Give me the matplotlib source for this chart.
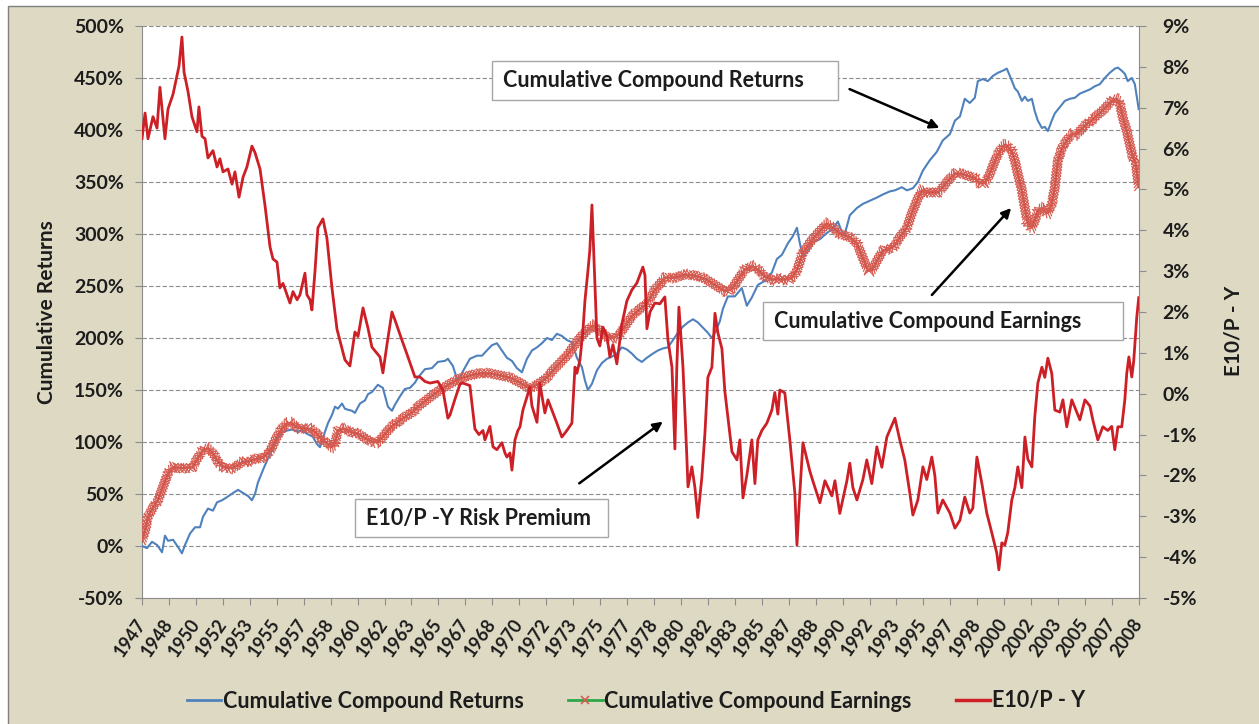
import matplotlib
matplotlib.use('Agg')
import matplotlib.pyplot as plt
import matplotlib.patheffects as pe
from matplotlib.patches import Rectangle, FancyArrowPatch
from matplotlib.lines import Line2D
from matplotlib.ticker import FuncFormatter

plt.rcParams['font.family'] = ['Lato', 'DejaVu Sans']
plt.rcParams['font.weight'] = 'bold'

W, H = 1259, 724

# --- data (decimal years) ---
returns_yr = [1947.00, 1947.31, 1947.62, 1947.93, 1948.24, 1948.42, 1948.61, 1948.92, 1949.23, 1949.47,
              1949.66, 1949.97, 1950.28, 1950.59, 1950.77, 1951.08, 1951.39, 1951.64, 1951.95, 1952.26,
              1952.63, 1952.94, 1953.25, 1953.56, 1953.80, 1953.99, 1954.17, 1954.48, 1954.73, 1955.04,
              1955.35, 1955.66, 1955.97, 1956.28, 1956.59, 1956.89, 1957.20, 1957.57, 1957.82, 1958.01,
              1958.32, 1958.50, 1958.75, 1958.94, 1959.12, 1959.37, 1959.55, 1959.74, 1959.99, 1960.17,
              1960.48, 1960.79, 1960.98, 1961.22, 1961.59, 1961.90, 1962.21, 1962.46, 1962.65, 1962.96,
              1963.26, 1963.57, 1963.88, 1964.07, 1964.50, 1964.93, 1965.30, 1965.74, 1965.92, 1966.23,
              1966.54, 1966.85, 1967.28, 1967.72, 1968.03, 1968.33, 1968.64, 1968.95, 1969.26, 1969.57,
              1969.88, 1970.19, 1970.50, 1970.81, 1971.12, 1971.43, 1971.74, 1972.05, 1972.35, 1972.66,
              1972.97, 1973.28, 1973.59, 1973.90, 1974.21, 1974.40, 1974.58, 1974.83, 1975.14, 1975.45,
              1975.76, 1976.06, 1976.37, 1976.68, 1976.99, 1977.30, 1977.61, 1977.92, 1978.23, 1978.60,
              1978.91, 1979.22, 1979.53, 1979.84, 1980.15, 1980.46, 1980.77, 1981.08, 1981.38, 1981.69,
              1982.00, 1982.25, 1982.44, 1982.74, 1982.93, 1983.24, 1983.67, 1984.10, 1984.41, 1984.72,
              1985.09, 1985.53, 1985.96, 1986.27, 1986.58, 1986.95, 1987.26, 1987.51, 1987.69, 1987.88,
              1988.12, 1988.49, 1988.93, 1989.36, 1989.73, 1990.04, 1990.29, 1990.47, 1990.78, 1991.22,
              1991.59, 1992.02, 1992.45, 1992.82, 1993.26, 1993.57, 1994.00, 1994.31, 1994.68, 1994.99,
              1995.30, 1995.73, 1996.16, 1996.53, 1996.97, 1997.28, 1997.59, 1997.89, 1998.20, 1998.51,
              1998.70, 1999.01, 1999.32, 1999.63, 1999.94, 2000.24, 2000.49, 2000.68, 2000.99, 2001.17,
              2001.42, 2001.61, 2001.79, 2002.04, 2002.22, 2002.41, 2002.66, 2002.84, 2003.03, 2003.27,
              2003.46, 2003.77, 2004.08, 2004.39, 2004.70, 2005.01, 2005.32, 2005.63, 2005.93, 2006.24,
              2006.55, 2006.86, 2007.17, 2007.36, 2007.60, 2007.79, 2007.97, 2008.22, 2008.41, 2008.65]
returns_pct = [0, -2, 4, 1, -6, 10, 5, 6, -1, -7,
               1, 12, 18, 18, 28, 36, 34, 42, 44, 47,
               51, 54, 51, 48, 44, 50, 61, 73, 82, 92,
               102, 109, 111, 112, 110, 111, 108, 105, 98, 95,
               110, 118, 126, 134, 132, 137, 132, 131, 130, 128,
               137, 140, 146, 148, 155, 152, 134, 130, 136, 144,
               151, 152, 157, 162, 170, 171, 177, 178, 180, 173,
               158, 168, 180, 183, 183, 188, 193, 195, 188, 181,
               178, 171, 167, 180, 188, 191, 195, 200, 198, 204,
               202, 198, 196, 181, 172, 159, 150, 156, 169, 176,
               180, 182, 185, 191, 189, 185, 180, 177, 181, 185,
               188, 190, 191, 198, 205, 211, 215, 218, 215, 210,
               205, 200, 205, 216, 228, 240, 240, 248, 231, 239,
               251, 255, 263, 276, 280, 291, 298, 306, 291, 278,
               283, 292, 295, 301, 305, 312, 302, 300, 318, 325,
               329, 332, 335, 338, 341, 342, 345, 342, 344, 350,
               361, 371, 379, 390, 396, 409, 413, 430, 426, 431,
               447, 449, 447, 452, 455, 457, 459, 452, 440, 437,
               428, 432, 428, 430, 418, 409, 402, 403, 399, 409,
               416, 422, 428, 430, 431, 435, 437, 439, 442, 444,
               450, 455, 459, 460, 457, 454, 447, 450, 444, 420]

earn_yr = [1947.00, 1947.19, 1947.37, 1947.68, 1947.99, 1948.30, 1948.61, 1948.92, 1949.23, 1949.84,
           1950.15, 1950.46, 1950.77, 1951.08, 1951.39, 1951.70, 1952.01, 1952.32, 1952.63, 1952.94,
           1953.25, 1953.56, 1953.86, 1954.17, 1954.48, 1954.79, 1955.04, 1955.35, 1955.66, 1955.97,
           1956.28, 1956.59, 1956.89, 1957.20, 1957.51, 1957.82, 1958.13, 1958.44, 1958.75, 1958.94,
           1959.12, 1959.43, 1959.74, 1960.05, 1960.36, 1960.67, 1960.98, 1961.29, 1961.59, 1961.90,
           1962.21, 1962.52, 1962.83, 1963.14, 1963.45, 1963.76, 1964.07, 1964.81, 1965.43, 1966.05,
           1966.67, 1967.28, 1967.90, 1968.52, 1969.14, 1969.76, 1970.38, 1970.81, 1971.18, 1971.61,
           1972.05, 1972.42, 1972.85, 1973.28, 1973.65, 1974.09, 1974.52, 1974.89, 1975.32, 1975.76,
           1976.13, 1976.56, 1976.99, 1977.36, 1977.80, 1978.23, 1978.72, 1979.34, 1979.96, 1980.58,
           1981.20, 1981.82, 1982.44, 1983.05, 1983.49, 1983.86, 1984.29, 1984.72, 1985.09, 1985.53,
           1985.96, 1986.33, 1986.76, 1987.20, 1987.51, 1987.88, 1988.43, 1988.93, 1989.36, 1989.73,
           1990.16, 1990.78, 1991.22, 1991.59, 1991.90, 1992.14, 1992.45, 1992.82, 1993.26, 1993.57,
           1993.87, 1994.31, 1994.62, 1994.93, 1995.24, 1995.54, 1995.92, 1996.23, 1996.53, 1996.84,
           1997.28, 1997.71, 1998.08, 1998.51, 1998.82, 1999.13, 1999.44, 1999.75, 2000.06, 2000.37,
           2000.55, 2000.80, 2000.99, 2001.17, 2001.42, 2001.61, 2001.79, 2002.04, 2002.22, 2002.41,
           2002.66, 2002.84, 2003.03, 2003.27, 2003.46, 2003.65, 2003.89, 2004.20, 2004.51, 2004.82,
           2005.13, 2005.44, 2005.75, 2006.06, 2006.37, 2006.68, 2006.98, 2007.29, 2007.48, 2007.67,
           2007.91, 2008.10, 2008.28, 2008.47, 2008.65]
earn_pct = [5, 15, 28, 37, 44, 57, 70, 76, 75, 75,
            76, 85, 92, 94, 89, 81, 76, 75, 75, 78,
            81, 81, 83, 84, 85, 89, 95, 105, 113, 118,
            118, 114, 113, 113, 112, 108, 102, 99, 95, 99,
            111, 113, 111, 109, 108, 105, 102, 100, 100, 105,
            111, 116, 119, 123, 126, 129, 134, 143, 150, 156,
            161, 164, 166, 166, 164, 162, 157, 153, 153, 157,
            162, 169, 176, 183, 191, 200, 207, 212, 207, 201,
            200, 204, 214, 222, 228, 233, 246, 258, 258, 261,
            260, 257, 251, 245, 247, 256, 266, 269, 266, 259,
            256, 257, 256, 258, 265, 282, 294, 303, 310, 306,
            300, 297, 291, 277, 265, 265, 274, 284, 286, 289,
            297, 306, 320, 332, 342, 340, 340, 340, 345, 351,
            358, 358, 356, 354, 349, 349, 358, 370, 380, 386,
            384, 380, 370, 358, 342, 325, 310, 306, 313, 322,
            325, 322, 320, 329, 345, 370, 382, 390, 396, 396,
            401, 406, 409, 414, 418, 423, 428, 430, 425, 412,
            399, 386, 374, 368, 345]

prem_yr = [1947.00, 1947.19, 1947.37, 1947.68, 1947.93, 1948.11, 1948.42, 1948.61, 1948.92, 1949.16,
           1949.29, 1949.47, 1949.60, 1949.84, 1950.09, 1950.40, 1950.52, 1950.71, 1950.90, 1951.08,
           1951.39, 1951.64, 1951.82, 1952.01, 1952.32, 1952.57, 1952.75, 1953.00, 1953.25, 1953.49,
           1953.80, 1953.99, 1954.30, 1954.61, 1954.92, 1955.10, 1955.35, 1955.53, 1955.72, 1955.97,
           1956.15, 1956.34, 1956.59, 1956.77, 1956.96, 1957.08, 1957.20, 1957.39, 1957.51, 1957.70,
           1957.88, 1958.19, 1958.44, 1958.75, 1959.06, 1959.55, 1959.86, 1960.17, 1960.36, 1960.67,
           1960.98, 1961.22, 1961.72, 1961.90, 1962.15, 1962.46, 1962.65, 1963.08, 1963.45, 1963.88,
           1964.19, 1964.50, 1964.81, 1965.30, 1965.61, 1965.92, 1966.05, 1966.36, 1966.67, 1966.85,
           1967.28, 1967.59, 1967.84, 1968.09, 1968.21, 1968.52, 1968.71, 1968.95, 1969.26, 1969.45,
           1969.57, 1969.76, 1969.88, 1970.07, 1970.25, 1970.38, 1970.56, 1970.81, 1970.99, 1971.12,
           1971.43, 1971.61, 1971.80, 1971.92, 1972.11, 1972.35, 1972.66, 1972.97, 1973.28, 1973.59,
           1973.78, 1973.90, 1974.09, 1974.27, 1974.40, 1974.58, 1974.70, 1974.83, 1974.95, 1975.14,
           1975.32, 1975.51, 1975.76, 1975.94, 1976.13, 1976.37, 1976.68, 1976.99, 1977.30, 1977.61,
           1977.98, 1978.11, 1978.23, 1978.42, 1978.72, 1979.03, 1979.34, 1979.53, 1979.78, 1979.96,
           1980.08, 1980.21, 1980.46, 1980.70, 1980.77, 1981.01, 1981.20, 1981.38, 1981.63, 1981.82,
           1982.00, 1982.25, 1982.44, 1982.62, 1982.87, 1983.05, 1983.24, 1983.49, 1983.80, 1983.98,
           1984.17, 1984.41, 1984.72, 1984.91, 1985.09, 1985.34, 1985.65, 1985.96, 1986.14, 1986.33,
           1986.45, 1986.76, 1987.07, 1987.38, 1987.51, 1987.69, 1987.88, 1988.31, 1988.49, 1988.93,
           1989.24, 1989.67, 1989.86, 1990.16, 1990.60, 1990.78, 1990.97, 1991.22, 1991.59, 1991.83,
           1992.14, 1992.45, 1992.76, 1993.07, 1993.57, 1993.87, 1994.18, 1994.49, 1994.68, 1994.99,
           1995.30, 1995.54, 1995.85, 1996.04, 1996.23, 1996.53, 1996.97, 1997.28, 1997.59, 1997.89,
           1998.20, 1998.39, 1998.64, 1998.95, 1999.25, 1999.56, 1999.87, 2000.00, 2000.18, 2000.37,
           2000.55, 2000.80, 2000.99, 2001.17, 2001.42, 2001.61, 2001.79, 2002.04, 2002.22, 2002.41,
           2002.66, 2002.84, 2003.03, 2003.27, 2003.46, 2003.77, 2003.96, 2004.20, 2004.51, 2004.82,
           2005.01, 2005.32, 2005.63, 2005.81, 2006.12, 2006.43, 2006.74, 2006.98, 2007.17, 2007.36,
           2007.60, 2007.79, 2007.91, 2008.04, 2008.22, 2008.34, 2008.53, 2008.65]
prem_pct = [6.24, 6.87, 6.24, 6.78, 6.50, 7.50, 6.24, 6.97, 7.33, 7.78,
            8.02, 8.73, 7.87, 7.41, 6.78, 6.41, 7.02, 6.30, 6.24, 5.77,
            5.95, 5.55, 5.75, 5.43, 5.50, 5.13, 5.43, 4.81, 5.30, 5.55,
            6.06, 5.90, 5.50, 4.60, 3.59, 3.30, 3.22, 2.59, 2.70, 2.42,
            2.22, 2.50, 2.30, 2.42, 2.74, 2.95, 2.42, 2.30, 2.05, 3.00,
            4.06, 4.28, 3.80, 2.59, 1.58, 0.83, 0.68, 1.51, 1.40, 2.10,
            1.60, 1.14, 0.90, 0.51, 1.20, 2.00, 1.80, 1.31, 0.90, 0.41,
            0.41, 0.30, 0.26, 0.30, 0.09, -0.60, -0.52, -0.13, 0.24, 0.26,
            0.20, -0.86, -1.00, -0.90, -1.13, -0.80, -1.30, -1.37, -1.20, -1.45,
            -1.55, -1.45, -1.87, -1.13, -0.90, -0.81, -0.40, -0.08, 0.16, -0.30,
            -0.70, 0.26, -0.20, -0.47, -0.15, -0.40, -0.72, -1.06, -0.90, -0.72,
            0.65, 0.50, 0.83, 1.53, 2.29, 3.00, 3.52, 4.62, 3.35, 1.36,
            1.17, 1.63, 1.40, 0.90, 1.20, 0.73, 1.70, 2.27, 2.54, 2.71,
            3.10, 2.90, 1.59, 2.00, 2.22, 2.20, 2.37, 1.32, 0.65, -1.35,
            0.65, 2.12, 0.65, -1.55, -2.28, -1.79, -2.30, -3.03, -2.04, -0.96,
            0.40, 0.65, 1.97, 1.49, 1.10, 0.06, -0.57, -1.42, -1.62, -1.13,
            -2.55, -2.00, -1.13, -2.20, -1.13, -0.90, -0.72, -0.40, 0.03, -0.50,
            0.09, 0.02, -1.13, -2.43, -3.70, -2.43, -1.20, -1.90, -2.13, -2.67,
            -2.13, -2.50, -2.13, -2.93, -2.13, -1.70, -2.30, -2.60, -2.10, -1.62,
            -2.20, -1.30, -1.80, -1.06, -0.60, -1.13, -1.62, -2.43, -2.97, -2.60,
            -1.79, -2.10, -1.55, -2.00, -2.92, -2.60, -2.92, -3.29, -3.10, -2.53,
            -2.92, -2.80, -1.55, -2.20, -2.92, -3.40, -3.90, -4.31, -3.65, -3.70,
            -3.40, -2.60, -2.30, -1.79, -2.30, -1.06, -1.60, -1.79, -0.57, 0.26,
            0.65, 0.40, 0.87, 0.50, -0.40, -0.45, -0.15, -0.81, -0.15, -0.45,
            -0.64, -0.15, -0.30, -0.64, -1.13, -0.81, -0.90, -0.80, -1.37, -0.81,
            -0.81, -0.15, 0.50, 0.90, 0.41, 0.80, 1.88, 2.35]

tick_labels = ['1947', '1948', '1950', '1952', '1953', '1955', '1957', '1958', '1960', '1962',
               '1963', '1965', '1967', '1968', '1970', '1972', '1973', '1975', '1977', '1978',
               '1980', '1982', '1983', '1985', '1987', '1988', '1990', '1992', '1993', '1995',
               '1997', '1998', '2000', '2002', '2003', '2005', '2007', '2008']
# category axis: one label every 20 months starting Jan 1947
tick_pos = [1947 + i * 20 / 12 for i in range(len(tick_labels))]

left_ticks = [-50, 0, 50, 100, 150, 200, 250, 300, 350, 400, 450, 500]
right_ticks = [-5, -4, -3, -2, -1, 0, 1, 2, 3, 4, 5, 6, 7, 8, 9]

BLUE = '#4F81BD'
GREEN = '#2BA84A'
SALMON = '#D65C52'
RED = '#CC1F26'
BEIGE = '#DDD9C3'
GRAY = '#8C8C8C'
TXT = '#1C1C1C'


def px(x, y):
    return x / W, 1 - y / H


fig = plt.figure(figsize=(W / 100, H / 100), dpi=100, facecolor='white')
fig.add_artist(Rectangle((8 / W, -0.02), 1.0, 1 - 6 / H + 0.02, transform=fig.transFigure,
                         facecolor=BEIGE, edgecolor='#7F7F7F', lw=1.0, zorder=0))

ax = fig.add_axes([142 / W, 1 - 598 / H, 997 / W, 572 / H])
ax.set_facecolor('white')

ax.plot(returns_yr, returns_pct, color=BLUE, lw=1.5, zorder=3)
ticks_fx = [pe.TickedStroke(spacing=2.2, angle=a, length=2.0) for a in (45, -45, 135, -135)]
ax.plot(earn_yr, earn_pct, color=SALMON, lw=0.9, zorder=4,
        path_effects=[pe.Stroke(linewidth=1.6, foreground='#B5473F')] + ticks_fx)

ax2 = ax.twinx()
ax2.plot(prem_yr, prem_pct, color=RED, lw=2.0, zorder=5)

ax.set_xlim(1947, 1947 + 740 / 12)
ax.set_ylim(-50, 500)
ax2.set_ylim(-5, 9)

ax.set_yticks(left_ticks)
ax2.set_yticks(right_ticks)
pct = FuncFormatter(lambda v, p: '%d%%' % round(v))
ax.yaxis.set_major_formatter(pct)
ax2.yaxis.set_major_formatter(pct)

ax.set_xticks(tick_pos)
ax.set_xticklabels(tick_labels, rotation=55, ha='right', va='center', rotation_mode='anchor')

ax.yaxis.grid(True, linestyle=(0, (4, 2)), color=GRAY, lw=0.8)
ax.set_axisbelow(True)

for s in ('top', 'right'):
    ax.spines[s].set_visible(False)
for s in ('top', 'left', 'bottom'):
    ax2.spines[s].set_visible(False)
ax.spines['left'].set_color(GRAY)
ax.spines['bottom'].set_color(GRAY)
ax2.spines['right'].set_color(GRAY)

ax.tick_params(axis='y', length=5, color=GRAY, pad=8, labelsize=14, labelcolor=TXT)
ax.tick_params(axis='x', length=5, color=GRAY, pad=11, labelsize=13, labelcolor=TXT)
ax2.tick_params(axis='y', length=5, color=GRAY, pad=12, labelsize=14, labelcolor=TXT)

fig.text(*px(47, 312), 'Cumulative Returns', rotation=90, ha='center', va='center',
         fontsize=15, color=TXT)
fig.text(*px(1233, 331), 'E10/P - Y', rotation=90, ha='center', va='center',
         fontsize=15, color=TXT)

# callout boxes with arrows
boxes = [
    ((492, 61, 838, 100), 'Cumulative Compound Returns', (847, 88), (942, 129)),
    ((763, 302, 1123, 340), 'Cumulative Compound Earnings', (930, 297), (1013, 206)),
    ((355, 499, 608, 537), 'E10/P -Y Risk Premium', (577, 485), (665, 420)),
]
for (x0, y0, x1, y1), label, tail, head in boxes:
    fig.add_artist(Rectangle(px(x0, y1), (x1 - x0) / W, (y1 - y0) / H, transform=fig.transFigure,
                             facecolor='white', edgecolor='#A6A6A6', lw=1.0, zorder=6))
    fig.text(*px(x0 + 11, (y0 + y1) / 2), label, ha='left', va='center', fontsize=15.5,
             color=TXT, zorder=7)
    fig.add_artist(FancyArrowPatch(px(*tail), px(*head), transform=fig.transFigure,
                                   arrowstyle='-|>', mutation_scale=14, lw=1.8,
                                   color='black', zorder=7))

handles = [
    Line2D([], [], color=BLUE, lw=2),
    Line2D([], [], color=GREEN, lw=2, marker='x', markersize=6, markeredgecolor=SALMON, markeredgewidth=1.2),
    Line2D([], [], color=RED, lw=2.5),
]
labels = ['Cumulative Compound Returns', 'Cumulative Compound Earnings', 'E10/P - Y']
fig.legend(handles, labels, loc='center', bbox_to_anchor=px(636, 701), ncol=3, frameon=False,
           handlelength=1.6, handletextpad=0.08, columnspacing=2.05,
           prop={'size': 15.5, 'weight': 'bold'}, labelcolor=TXT)

fig.savefig('out.png', dpi=100, facecolor=fig.get_facecolor())
